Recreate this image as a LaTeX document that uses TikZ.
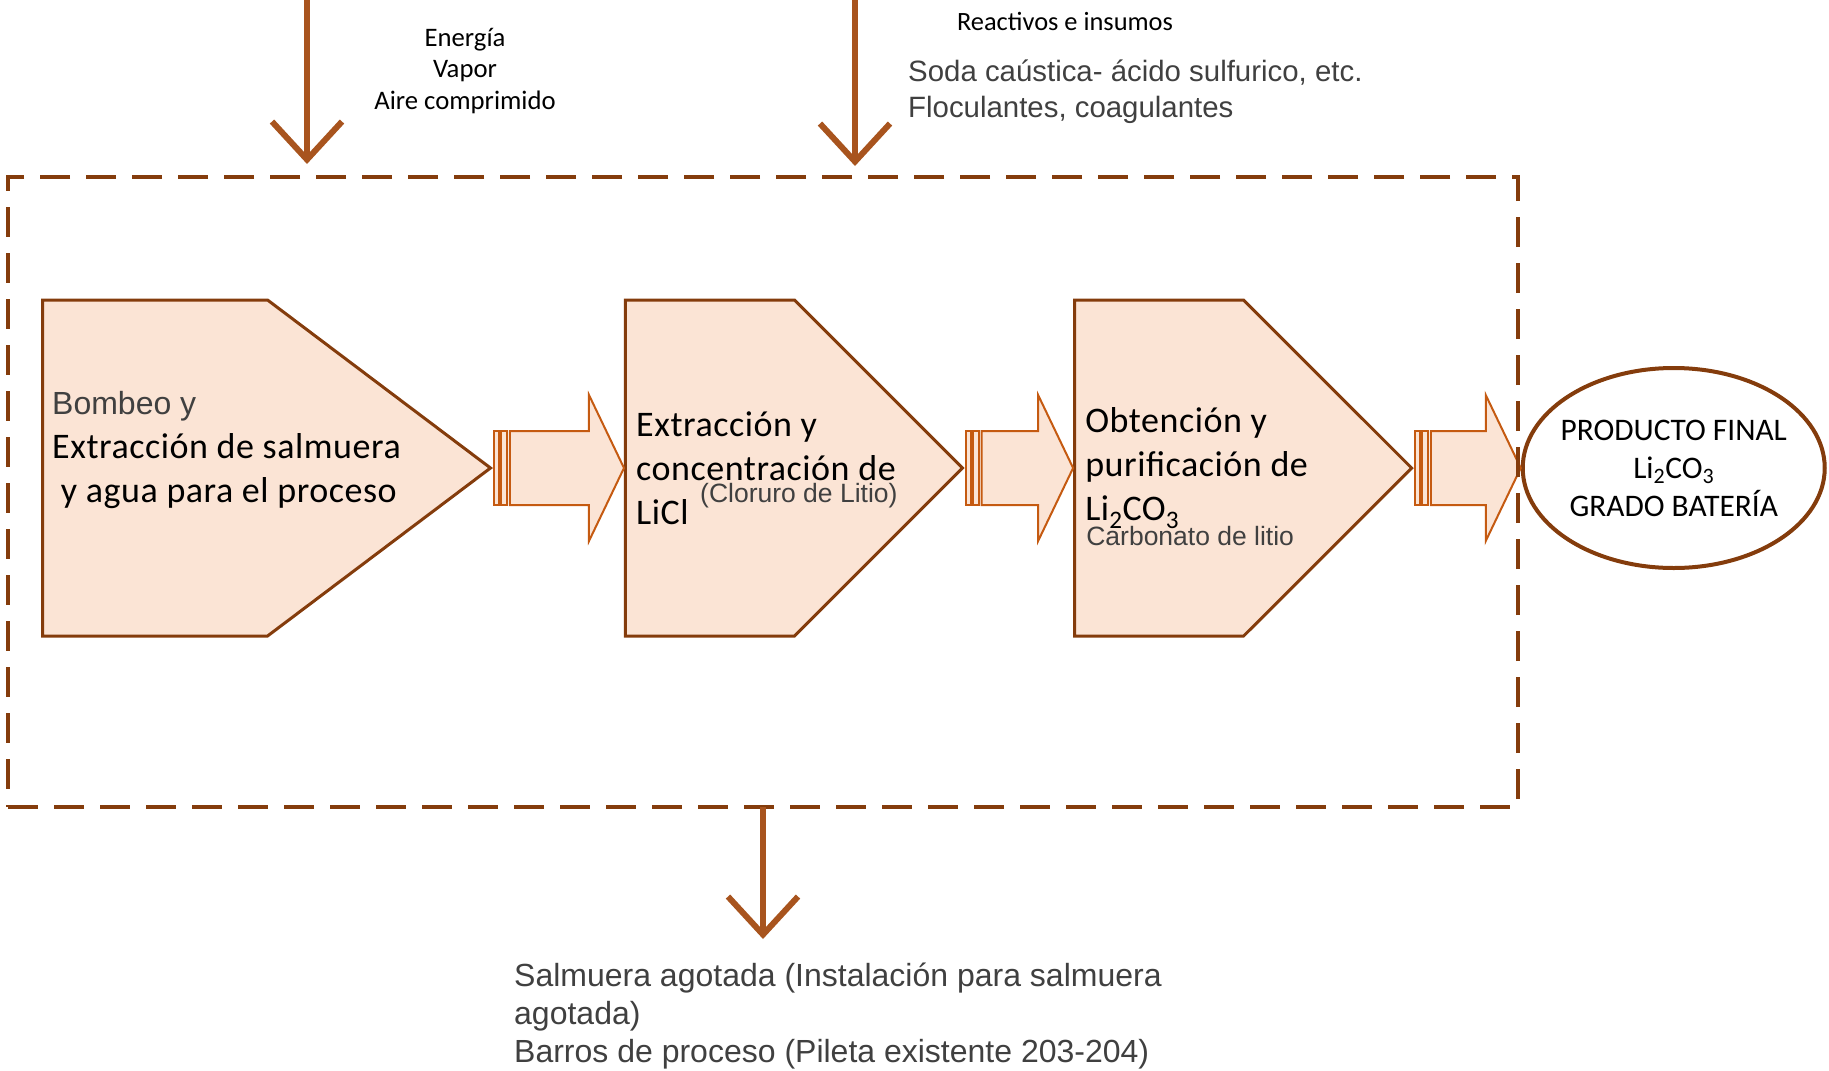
\documentclass[tikz,border=0pt]{standalone}
\usepackage{fontspec}
\setmainfont{Carlito}
\newfontfamily\arialf{Liberation Sans}
\newfontfamily\calsp[LetterSpace=1.5]{Carlito}
\usetikzlibrary{arrows.meta,calc,positioning,shapes.geometric,shapes.symbols}
\definecolor{rust}{RGB}{132,60,12}
\definecolor{copper}{RGB}{168,84,30}
\definecolor{ember}{RGB}{197,90,17}
\definecolor{peach}{RGB}{251,228,213}
\definecolor{ink}{RGB}{64,64,64}
\tikzset{every picture/.style={
  >={Straight Barb[length=38pt,width=70pt]}   % Open V tips.
  }
}

\begin{document}
\begin{tikzpicture}[
    x=1pt, y=1pt,
    node distance=0pt,
    stage/.style={
      shape=signal,
      signal to=east,
      draw=rust,
      line width=3pt,
      fill=peach,
      minimum height=336pt,
      inner sep=0pt
    },
    steptxt/.style={
      align=left,
      inner sep=0pt,
      font=\calsp\fontsize{36}{44}\selectfont
    },
    note/.style={
      text=ink,
      inner sep=0pt,
      font=\arialf\fontsize{26.5}{30}\selectfont
    },
    pipe/.style={draw=ember, line width=2pt, fill=peach},
    feed/.style={draw=copper, line width=6pt, ->},
    plant/.style={
      draw=rust,
      line width=3.5pt,
      dash pattern=on 30pt off 16pt,
      outer sep=0pt
    }]

    \useasboundingbox (0,0) rectangle (1829,-1071);

    % Helper macro: striped pipe arrow from one stage to the next.
    \def\pipeto#1#2{
        \draw[pipe] ([xshift=1pt,yshift=-37pt] #1.east) rectangle
          ([xshift=6pt,yshift=37pt] #1.east);
        \draw[pipe] ([xshift=8pt,yshift=-37pt] #1.east) rectangle
          ([xshift=14pt,yshift=37pt] #1.east);
        \draw[pipe] ([xshift=17pt,yshift=37pt] #1.east) --
          ([xshift=-35pt,yshift=37pt] #2.west) --
          ([xshift=-35pt,yshift=73pt] #2.west) -- (#2.west) --
          ([xshift=-35pt,yshift=-73pt] #2.west) --
          ([xshift=-35pt,yshift=-37pt] #2.west) --
          ([xshift=17pt,yshift=-37pt] #1.east) -- cycle;
        }

    % Draw the three process stages and the product.
    \node[stage,minimum width=448pt,signal pointer angle=74,anchor=west]
      (p1) at (41,-468) {};
    \node[stage,minimum width=337pt,signal pointer angle=90,
      right=131pt of p1] (p2) {};
    \node[stage,minimum width=337pt,signal pointer angle=90,
      right=108.5pt of p2] (p3) {};
    \node[ellipse,draw=rust,line width=4pt,minimum width=302pt,
      minimum height=200pt,right=107pt of p3] (fin) {};

    % Stage texts.
    \node[steptxt,right=11pt of p1.west,yshift=18pt] (t1)
      {{\arialf\color{ink}\fontsize{32}{44}\selectfont Bombeo y}\\
       Extracción de salmuera\\ \ y agua para el proceso};
    \node[steptxt,right=12pt of p2.west] (t2)
      {Extracción y\\ concentración de\\ LiCl};
    \node[note,right=76pt of p2.west,yshift=-28pt] (n2) {(Cloruro de Litio)};
    \node[steptxt,right=12pt of p3.west] (t3)
      {Obtención y\\ purificación de\\ Li\textsubscript{2}CO\textsubscript{3}};
    \node[note,right=13pt of p3.west,yshift=-68pt] (n3) {Carbonato de litio};
    \node[align=center,inner sep=0pt,font=\fontsize{31.4}{38}\selectfont]
      (fintxt) at (fin) {PRODUCTO FINAL\\
      Li\textsubscript{2}CO\textsubscript{3}\\ GRADO BATERÍA};

    % Draw the pipes between the stages.
    \pipeto{p1}{p2};
    \pipeto{p2}{p3};
    \pipeto{p3}{fin};

    % Draw the plant limit.
    \node[plant,minimum width=1510pt,minimum height=630pt,anchor=north west]
      (plant) at (8,-177) {};

    % Inputs and outputs.
    \node[align=center,inner sep=0pt,font=\fontsize{26.7}{31.5}\selectfont]
      (energy) at (465,-71) {Energía\\ Vapor\\ Aire comprimido};
    \node[inner sep=0pt,font=\fontsize{26.4}{30}\selectfont]
      (react) at (1065,-21) {Reactivos e insumos};
    \node[note,align=left,font=\arialf\fontsize{29.4}{36}\selectfont,
      anchor=west] (soda) at (908,-91.5)
      {Soda caústica- ácido sulfurico, etc.\\ Floculantes, coagulantes};
    \node[note,align=left,font=\arialf\fontsize{32}{38}\selectfont,
      anchor=north west] (waste) at (514,-963)
      {Salmuera agotada (Instalación para salmuera\\ agotada)\\
       Barros de proceso (Pileta existente 203-204)};

    \coordinate (e0) at (307,0);
    \coordinate (r0) at (855,0);
    \coordinate (drain) at ([xshift=755pt] plant.south west);
    \draw[feed,shorten >=13pt] (e0) -- (e0 |- plant.north);
    \draw[feed,shorten >=11pt] (r0) -- (r0 |- plant.north);
    \draw[feed,shorten >=24pt] (drain) -- (drain |- waste.north);
  \end{tikzpicture}
\end{document}
